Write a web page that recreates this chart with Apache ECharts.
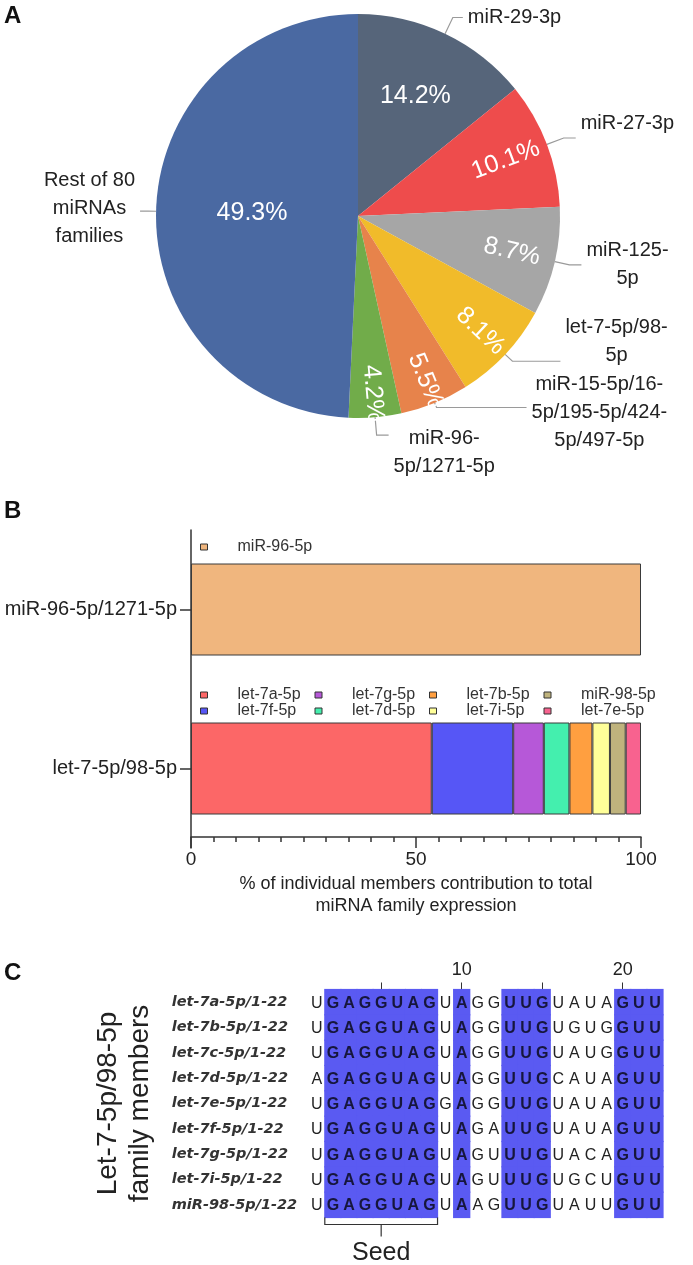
<!DOCTYPE html>
<html><head><meta charset="utf-8">
<script src="https://cdn.jsdelivr.net/npm/echarts@6/dist/echarts.min.js"></script>
<style>html,body{margin:0;padding:0;background:#fff}#c{width:693px;height:1265px}</style>
</head><body><div id="c"></div>
<script>
// ---------- Panel A data ----------
const pieNames = ['miR-29-3p', 'miR-27-3p', 'miR-125-5p', 'let-7-5p/98-5p',
  'miR-15-5p/16-5p/195-5p/424-5p/497-5p', 'miR-96-5p/1271-5p', 'Rest of 80 miRNAs families'];
const pieLabels = ['miR-29-3p', 'miR-27-3p', 'miR-125-\n5p', 'let-7-5p/98-\n5p',
  'miR-15-5p/16-\n5p/195-5p/424-\n5p/497-5p', 'miR-96-\n5p/1271-5p', 'Rest of 80\nmiRNAs\nfamilies'];
const pieValues = [14.2, 10.1, 8.7, 8.1, 5.5, 4.2, 49.3];

// ---------- Panel B data ----------
const barCategories = ['let-7-5p/98-5p', 'miR-96-5p/1271-5p'];
const mir96Members = ['miR-96-5p'];
const mir96Values = [100];
const let7Members = ['let-7a-5p', 'let-7f-5p', 'let-7g-5p', 'let-7d-5p', 'let-7b-5p', 'let-7i-5p', 'miR-98-5p', 'let-7e-5p'];
const let7Values = [53.5, 18.1, 6.8, 5.7, 5.1, 3.9, 3.5, 3.4];
const let7LegendOrder = ['let-7a-5p', 'let-7g-5p', 'let-7b-5p', 'miR-98-5p', 'let-7f-5p', 'let-7d-5p', 'let-7i-5p', 'let-7e-5p'];
const xTicks = [0, 50, 100];

// ---------- Panel C data ----------
const seqNames = ['let-7a-5p/1-22', 'let-7b-5p/1-22', 'let-7c-5p/1-22', 'let-7d-5p/1-22', 'let-7e-5p/1-22',
  'let-7f-5p/1-22', 'let-7g-5p/1-22', 'let-7i-5p/1-22', 'miR-98-5p/1-22'];
const sequences = [
  'UGAGGUAGUAGGUUGUAUAGUU',
  'UGAGGUAGUAGGUUGUGUGGUU',
  'UGAGGUAGUAGGUUGUAUGGUU',
  'AGAGGUAGUAGGUUGCAUAGUU',
  'UGAGGUAGGAGGUUGUAUAGUU',
  'UGAGGUAGUAGAUUGUAUAGUU',
  'UGAGGUAGUAGUUUGUACAGUU',
  'UGAGGUAGUAGUUUGUGCUGUU',
  'UGAGGUAGUAAGUUGUAUUGUU'
];
const positions = Array.from({length: 22}, (_, i) => String(i + 1));
const seedRange = [2, 8];

// ---------- styles ----------
const F = '"Liberation Sans", Arial, sans-serif';
const pieColors = ['#56657a', '#ee4c4c', '#a6a6a6', '#f1bb2a', '#e7834b', '#71ac4a', '#4a69a2'];
const mir96Color = '#f0b67e';
const let7Colors = ['#fc6767', '#5656f6', '#b658d8', '#44efae', '#ff9f40', '#ffff99', '#bfb37d', '#f8628f'];
const L1 = [18, 18, 15, 10, 5, 18, 8];
const L2 = [10, 12, 12, 48, 90, 12, 8];
const labelDy = [0, -15, 0, -20, 5, 17, -3];
const radialIdx = [1, 2, 3, 4, 5];

const PC = [358, 216], PR = 202;

function pctPie(indices, r0) {
  return {
    type: 'pie', center: PC, radius: [r0, PR], startAngle: 90, silent: true, z: 5,
    avoidLabelOverlap: false, emphasis: {disabled: true},
    itemStyle: {color: 'rgba(0,0,0,0)', borderWidth: 0},
    labelLine: {show: false},
    label: {show: false},
    data: pieValues.map((v, i) => ({
      name: pieNames[i], value: v,
      label: {
        show: indices.includes(i), position: 'inside',
        rotate: radialIdx.includes(i) ? 'radial' : 0,
        formatter: v.toFixed(1) + '%', color: '#fff', fontSize: 25, fontFamily: F
      }
    }))
  };
}

// conservation per column
const conserved = positions.map((_, c) => sequences.every(s => s[c] === sequences[0][c]) ? 1 : 0);
const cellData = [];
sequences.forEach((s, r) => { for (let c = 0; c < s.length; c++) cellData.push([c, r, conserved[c]]); });

const legendRich = {
  g: {width: 25, lineHeight: 18},
  n: {width: 77, fontSize: 16, lineHeight: 18, color: '#333', fontFamily: F}
};

const barSeries = [];
mir96Members.forEach((m, i) => barSeries.push({
  type: 'bar', name: m, stack: 'fam', xAxisIndex: 0, yAxisIndex: 0, barWidth: 92,
  itemStyle: {color: mir96Color, borderColor: '#3a3a3a', borderWidth: 1},
  data: ['-', mir96Values[i]]
}));
let7Members.forEach((m, i) => barSeries.push({
  type: 'bar', name: m, stack: 'fam', xAxisIndex: 0, yAxisIndex: 0, barWidth: 92,
  itemStyle: {color: let7Colors[i], borderColor: '#3a3a3a', borderWidth: 1},
  data: [let7Values[i], '-']
}));

const chart = echarts.init(document.getElementById('c'), null, {renderer: 'canvas'});
const option = {
  animation: false,
  backgroundColor: '#fff',
  textStyle: {fontFamily: F},
  title: [
    {text: 'A', left: 4, top: 4, padding: 0, textStyle: {fontSize: 24, fontWeight: 'bold', color: '#111', fontFamily: F}},
    {text: 'B', left: 4, top: 499, padding: 0, textStyle: {fontSize: 24, fontWeight: 'bold', color: '#111', fontFamily: F}},
    {text: 'C', left: 4, top: 961, padding: 0, textStyle: {fontSize: 24, fontWeight: 'bold', color: '#111', fontFamily: F}}
  ],
  legend: [
    {data: mir96Members, left: 200, top: 539, padding: 0, itemGap: 0, itemWidth: 7, itemHeight: 6, icon: 'rect',
      itemStyle: {borderColor: '#333', borderWidth: 1}, selectedMode: false,
      formatter: n => '{g|}{n|' + n + '}', textStyle: {rich: legendRich}},
    {data: let7LegendOrder, left: 200, top: 687, width: 460, padding: 0, itemGap: 0, itemWidth: 7, itemHeight: 6, icon: 'rect',
      itemStyle: {borderColor: '#333', borderWidth: 1}, selectedMode: false,
      formatter: n => '{g|}{n|' + n + '}', textStyle: {rich: legendRich}}
  ],
  grid: [
    {left: 191, right: 52, top: 530, bottom: 417, outerBoundsMode: 'none', containLabel: false},
    {left: 308.7, right: 30, top: 989.5, bottom: 47.5, outerBoundsMode: 'none', containLabel: false}
  ],
  xAxis: [
    {gridIndex: 0, type: 'value', min: 0, max: 100, interval: 50, offset: -11,
      axisLine: {show: true, lineStyle: {color: '#333', width: 1.5}},
      axisTick: {show: true, length: 11, lineStyle: {color: '#333', width: 1.5}},
      minorTick: {show: true, splitNumber: 10, length: 5, lineStyle: {color: '#333', width: 1.5}},
      splitLine: {show: false}, minorSplitLine: {show: false},
      axisLabel: {fontSize: 19, color: '#222', margin: 13, fontFamily: F,
        formatter: v => xTicks.includes(v) ? String(v) : ''},
      name: '% of individual members contribution to total\nmiRNA family expression',
      nameLocation: 'middle', nameGap: 36,
      nameTextStyle: {fontSize: 18, lineHeight: 22, color: '#222', fontFamily: F}},
    {gridIndex: 1, type: 'category', position: 'top', data: positions,
      axisLine: {show: false},
      axisTick: {show: true, alignWithLabel: true, length: 7, interval: (i) => (i + 1) % 5 === 0, lineStyle: {color: '#333'}},
      axisLabel: {interval: (i) => (i + 1) % 10 === 0, fontSize: 18, color: '#222', margin: 10, fontFamily: F},
      splitLine: {show: false}}
  ],
  yAxis: [
    {gridIndex: 0, type: 'category', data: barCategories,
      axisLine: {show: true, lineStyle: {color: '#333', width: 1.5}},
      axisTick: {show: true, length: 11, alignWithLabel: true, lineStyle: {color: '#333', width: 1.5}},
      axisLabel: {fontSize: 20, margin: 14, color: '#222', fontFamily: F}},
    {gridIndex: 1, type: 'category', inverse: true, data: seqNames,
      axisLine: {show: false}, axisTick: {show: false}, splitLine: {show: false},
      axisLabel: {align: 'left', margin: 137, fontStyle: 'italic', fontWeight: 'bold', fontFamily: '"DejaVu Sans", sans-serif', fontSize: 14.5, color: '#333'},
      name: 'Let-7-5p/98-5p\nfamily members', nameLocation: 'middle', nameRotate: 90, nameGap: 152,
      nameTextStyle: {fontSize: 28, lineHeight: 32, color: '#222', fontFamily: F}}
  ],
  series: [
    {
      type: 'pie', name: 'families', center: PC, radius: PR, startAngle: 90, clockwise: true,
      avoidLabelOverlap: false, emphasis: {disabled: true},
      itemStyle: {borderWidth: 0},
      label: {
        show: true, position: 'outside', color: '#222', fontSize: 20, fontFamily: F, lineHeight: 28,
        formatter: p => pieLabels[p.dataIndex].split('\n').map(l => '{c|' + l + '}').join('\n'),
        rich: {c: {align: 'center', fontSize: 20, lineHeight: 28, color: '#222', fontFamily: F}}
      },
      labelLine: {show: true, lineStyle: {color: '#9a9a9a', width: 1.2}},
      labelLayout: p => (labelDy[p.dataIndex] ? {dy: labelDy[p.dataIndex]} : {}),
      data: pieValues.map((v, i) => ({
        name: pieNames[i], value: v, itemStyle: {color: pieColors[i]},
        labelLine: {length: L1[i], length2: L2[i]}
      }))
    },
    pctPie([1, 2], 108),
    pctPie([3], 128),
    pctPie([4, 5], 148),
    pctPie([0], 58),
    pctPie([6], 4),
    ...barSeries,
    {
      type: 'custom', name: 'alignment', coordinateSystem: 'cartesian2d', xAxisIndex: 1, yAxisIndex: 1,
      encode: {x: 0, y: 1}, silent: true,
      renderItem: (params, api) => {
        const c = api.value(0), r = api.value(1), cons = api.value(2);
        const pt = api.coord([c, r]);
        const sz = api.size([1, 1]);
        const letter = sequences[r][c];
        const children = [];
        if (cons) children.push({type: 'rect', shape: {x: pt[0] - sz[0] / 2 - 0.6, y: pt[1] - sz[1] / 2 - 0.6, width: sz[0] + 1.2, height: sz[1] + 1.2},
          style: {fill: '#5a5af2'}});
        children.push({type: 'text', z2: 10, style: {text: letter, x: pt[0], y: pt[1] + 1, align: 'center', verticalAlign: 'middle',
          font: (cons ? 'bold ' : '') + '16px "Liberation Sans", Arial, sans-serif', fill: cons ? '#16163c' : '#222'}});
        return {type: 'group', children};
      },
      data: cellData
    },
    {
      type: 'custom', name: 'seed', coordinateSystem: 'cartesian2d', xAxisIndex: 1, yAxisIndex: 1,
      encode: {x: [0, 1], y: 2}, silent: true, z: 3,
      renderItem: (params, api) => {
        const a = api.coord([api.value(0), api.value(2)]);
        const b = api.coord([api.value(1), api.value(2)]);
        const sz = api.size([1, 1]);
        const x0 = a[0] - sz[0] / 2, x1 = b[0] + sz[0] / 2, yb = a[1] + sz[1] / 2;
        const yl = yb + 7, xm = (x0 + x1) / 2;
        const ls = {stroke: '#333', lineWidth: 1.2, fill: null};
        return {type: 'group', children: [
          {type: 'polyline', shape: {points: [[x0, yb], [x0, yl], [x1, yl], [x1, yb]]}, style: ls},
          {type: 'line', shape: {x1: xm, y1: yl, x2: xm, y2: yl + 12}, style: ls},
          {type: 'text', style: {text: 'Seed', x: xm, y: yl + 29, align: 'center', verticalAlign: 'middle',
            font: '25px "Liberation Sans", Arial, sans-serif', fill: '#222'}}
        ]};
      },
      data: [[seedRange[0] - 1, seedRange[1] - 1, sequences.length - 1]]
    }
  ]
};
chart.setOption(option);
</script></body></html>
